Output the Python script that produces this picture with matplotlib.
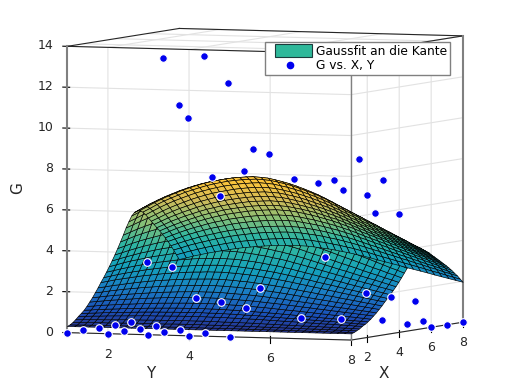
import numpy as np
import matplotlib
matplotlib.use("Agg")
import matplotlib.pyplot as plt
from matplotlib.colors import LinearSegmentedColormap
from matplotlib.legend_handler import HandlerPatch
from matplotlib.lines import Line2D
from matplotlib.patches import Patch, Rectangle
from mpl_toolkits.mplot3d import proj3d

# measured points, rows are X = 1..8, columns are Y = 1..8
# nan = hidden behind the surface in the picture
grid_vals = [1, 2, 3, 4, 5, 6, 7, 8]
nan = float("nan")
g_vals = [
    [0, 0, 0, 0, 0, nan, nan, nan],
    [0, 0, 0, 0, 1.3, nan, nan, 6.98],
    [0, 0, 0, 1.38, nan, nan, 7.05, 7.6],
    [0, 0, 1.4, nan, nan, 7.18, 8.45, 5.81],
    [0, 2.76, 7.21, 8.63, 7.21, 7.2, 5.64, 1.39],
    [2.83, 9.93, 11.69, 8.27, nan, nan, 1.41, 0],
    [12.7, 12.84, 7.26, nan, 3.15, 1.44, 0, 0],
    [10.28, 5.87, 1.42, 0, 0, 0, 0, 0],
]

# fitted surface, rows along X, columns along Y
fit_axis = [1, 1.175, 1.35, 1.525, 1.7, 1.875, 2.05, 2.225, 2.4, 2.575, 2.75, 2.925, 3.1, 3.275,
            3.45, 3.625, 3.8, 3.975, 4.15, 4.325, 4.5, 4.675, 4.85, 5.025, 5.2, 5.375, 5.55,
            5.725, 5.9, 6.075, 6.25, 6.425, 6.6, 6.775, 6.95, 7.125, 7.3, 7.475, 7.65, 7.825, 8]
fit_vals = [
    [.3, .3, .3, .3, .3, .3, .3, .3, .3, .3, .3, .3, .3, .3, .3, .3, .3, .3, .3, .3, .3, .3, .3, .3, .3, .3, .3, .3, .3, .3, .3, .3, .3, .3, .3, .3, .3, .3, .3, .3, .3],
    [.36, .36, .37, .37, .37, .37, .37, .38, .38, .38, .38, .38, .38, .38, .38, .38, .38, .38, .38, .38, .38, .38, .38, .38, .38, .37, .37, .37, .37, .37, .36, .36, .36, .36, .35, .35, .35, .35, .35, .34, .34],
    [.45, .46, .47, .47, .48, .48, .48, .49, .49, .5, .5, .5, .5, .5, .51, .51, .51, .51, .51, .5, .5, .5, .5, .49, .49, .48, .48, .47, .47, .46, .46, .45, .45, .44, .44, .43, .43, .42, .42, .41, .41],
    [.57, .58, .59, .6, .6, .61, .62, .63, .63, .64, .64, .65, .65, .65, .66, .66, .66, .66, .66, .65, .65, .64, .64, .63, .63, .62, .61, .6, .59, .58, .57, .56, .55, .55, .54, .53, .52, .51, .5, .49, .48],
    [.71, .72, .74, .75, .77, .78, .79, .8, .81, .82, .83, .83, .84, .84, .85, .85, .85, .85, .85, .84, .84, .83, .82, .81, .8, .79, .78, .76, .75, .73, .72, .71, .69, .68, .66, .65, .64, .62, .61, .59, .58],
    [.83, .85, .87, .89, .91, .92, .94, .95, .97, .98, .99, 1.0, 1.0, 1.01, 1.01, 1.02, 1.02, 1.02, 1.01, 1.01, 1.0, .99, .98, .96, .95, .94, .92, .9, .88, .86, .85, .83, .81, .79, .77, .76, .74, .72, .7, .68, .66],
    [.96, .99, 1.02, 1.04, 1.06, 1.08, 1.1, 1.12, 1.13, 1.15, 1.16, 1.17, 1.18, 1.19, 1.19, 1.19, 1.2, 1.19, 1.19, 1.18, 1.17, 1.16, 1.15, 1.13, 1.11, 1.09, 1.07, 1.05, 1.03, 1.01, .98, .96, .94, .91, .89, .87, .85, .82, .8, .78, .76],
    [1.13, 1.16, 1.2, 1.23, 1.25, 1.28, 1.3, 1.32, 1.34, 1.36, 1.38, 1.39, 1.4, 1.41, 1.42, 1.42, 1.42, 1.42, 1.42, 1.41, 1.39, 1.38, 1.36, 1.34, 1.32, 1.3, 1.27, 1.24, 1.21, 1.19, 1.16, 1.13, 1.1, 1.07, 1.04, 1.01, .98, .96, .93, .9, .87],
    [1.32, 1.36, 1.4, 1.44, 1.47, 1.5, 1.53, 1.56, 1.58, 1.6, 1.62, 1.64, 1.65, 1.66, 1.67, 1.68, 1.68, 1.68, 1.67, 1.66, 1.64, 1.62, 1.6, 1.58, 1.55, 1.52, 1.49, 1.46, 1.42, 1.39, 1.35, 1.32, 1.28, 1.25, 1.21, 1.18, 1.14, 1.11, 1.07, 1.04, 1.0],
    [1.51, 1.56, 1.61, 1.65, 1.69, 1.73, 1.76, 1.79, 1.82, 1.85, 1.87, 1.89, 1.91, 1.92, 1.93, 1.94, 1.94, 1.94, 1.93, 1.91, 1.89, 1.87, 1.85, 1.82, 1.79, 1.75, 1.72, 1.68, 1.63, 1.59, 1.55, 1.51, 1.47, 1.43, 1.38, 1.34, 1.3, 1.26, 1.22, 1.18, 1.13],
    [1.73, 1.78, 1.84, 1.89, 1.94, 1.98, 2.02, 2.06, 2.09, 2.12, 2.15, 2.17, 2.19, 2.21, 2.22, 2.23, 2.23, 2.23, 2.22, 2.2, 2.18, 2.15, 2.12, 2.09, 2.05, 2.01, 1.97, 1.92, 1.87, 1.82, 1.77, 1.72, 1.67, 1.62, 1.57, 1.53, 1.48, 1.43, 1.38, 1.33, 1.28],
    [1.95, 2.01, 2.08, 2.13, 2.19, 2.24, 2.29, 2.33, 2.37, 2.4, 2.43, 2.46, 2.48, 2.5, 2.51, 2.52, 2.53, 2.52, 2.51, 2.49, 2.46, 2.44, 2.4, 2.36, 2.32, 2.27, 2.22, 2.17, 2.11, 2.05, 2.0, 1.94, 1.88, 1.83, 1.77, 1.71, 1.66, 1.6, 1.54, 1.49, 1.43],
    [2.19, 2.26, 2.34, 2.4, 2.46, 2.52, 2.58, 2.62, 2.67, 2.71, 2.74, 2.77, 2.8, 2.82, 2.83, 2.85, 2.85, 2.85, 2.83, 2.81, 2.78, 2.75, 2.71, 2.66, 2.61, 2.56, 2.5, 2.44, 2.37, 2.31, 2.24, 2.18, 2.11, 2.05, 1.98, 1.92, 1.85, 1.79, 1.72, 1.66, 1.6],
    [2.41, 2.49, 2.58, 2.65, 2.72, 2.78, 2.85, 2.9, 2.95, 2.99, 3.03, 3.07, 3.09, 3.12, 3.14, 3.15, 3.16, 3.15, 3.14, 3.11, 3.07, 3.04, 2.99, 2.94, 2.89, 2.83, 2.76, 2.69, 2.62, 2.55, 2.47, 2.4, 2.33, 2.26, 2.18, 2.11, 2.04, 1.97, 1.89, 1.82, 1.75],
    [2.65, 2.74, 2.83, 2.91, 2.99, 3.06, 3.13, 3.19, 3.24, 3.29, 3.34, 3.37, 3.41, 3.43, 3.45, 3.46, 3.47, 3.46, 3.45, 3.42, 3.38, 3.34, 3.29, 3.23, 3.18, 3.11, 3.04, 2.96, 2.88, 2.8, 2.72, 2.64, 2.55, 2.48, 2.39, 2.31, 2.23, 2.15, 2.07, 1.99, 1.91],
    [2.9, 3.0, 3.11, 3.2, 3.28, 3.36, 3.44, 3.5, 3.56, 3.62, 3.67, 3.71, 3.74, 3.77, 3.79, 3.81, 3.82, 3.81, 3.79, 3.76, 3.72, 3.67, 3.62, 3.55, 3.49, 3.42, 3.33, 3.25, 3.16, 3.07, 2.98, 2.89, 2.8, 2.71, 2.62, 2.53, 2.44, 2.36, 2.26, 2.18, 2.09],
    [3.16, 3.27, 3.38, 3.48, 3.58, 3.66, 3.74, 3.82, 3.88, 3.95, 4.0, 4.04, 4.08, 4.11, 4.14, 4.15, 4.16, 4.15, 4.14, 4.1, 4.05, 4.0, 3.94, 3.87, 3.8, 3.72, 3.63, 3.54, 3.44, 3.34, 3.24, 3.14, 3.04, 2.95, 2.85, 2.75, 2.65, 2.56, 2.46, 2.36, 2.26],
    [3.43, 3.55, 3.67, 3.78, 3.89, 3.98, 4.07, 4.15, 4.22, 4.29, 4.35, 4.39, 4.44, 4.47, 4.5, 4.52, 4.53, 4.52, 4.5, 4.46, 4.41, 4.35, 4.28, 4.21, 4.13, 4.05, 3.95, 3.84, 3.73, 3.63, 3.52, 3.41, 3.3, 3.2, 3.09, 2.98, 2.87, 2.77, 2.66, 2.56, 2.45],
    [3.72, 3.85, 3.99, 4.11, 4.22, 4.32, 4.42, 4.51, 4.59, 4.66, 4.72, 4.78, 4.82, 4.86, 4.89, 4.91, 4.92, 4.91, 4.89, 4.84, 4.79, 4.73, 4.66, 4.57, 4.49, 4.39, 4.29, 4.17, 4.05, 3.94, 3.82, 3.7, 3.58, 3.47, 3.35, 3.23, 3.11, 3.0, 2.88, 2.77, 2.65],
    [4.02, 4.17, 4.32, 4.45, 4.57, 4.68, 4.79, 4.88, 4.97, 5.05, 5.12, 5.18, 5.23, 5.27, 5.3, 5.32, 5.34, 5.32, 5.3, 5.25, 5.19, 5.13, 5.05, 4.96, 4.86, 4.76, 4.64, 4.52, 4.39, 4.26, 4.13, 4.01, 3.88, 3.75, 3.62, 3.5, 3.37, 3.24, 3.11, 2.99, 2.86],
    [4.33, 4.49, 4.65, 4.79, 4.92, 5.04, 5.16, 5.26, 5.36, 5.44, 5.51, 5.58, 5.63, 5.68, 5.71, 5.74, 5.75, 5.74, 5.71, 5.66, 5.59, 5.52, 5.44, 5.34, 5.24, 5.13, 5.0, 4.87, 4.72, 4.59, 4.45, 4.31, 4.17, 4.04, 3.89, 3.76, 3.62, 3.48, 3.34, 3.21, 3.07],
    [4.66, 4.83, 5.0, 5.16, 5.3, 5.43, 5.56, 5.67, 5.77, 5.87, 5.94, 6.01, 6.07, 6.12, 6.16, 6.18, 6.2, 6.18, 6.16, 6.1, 6.03, 5.95, 5.86, 5.75, 5.64, 5.52, 5.39, 5.24, 5.09, 4.94, 4.79, 4.64, 4.49, 4.34, 4.19, 4.04, 3.89, 3.75, 3.59, 3.45, 3.29],
    [4.94, 5.12, 5.31, 5.47, 5.62, 5.76, 5.9, 6.01, 6.12, 6.22, 6.31, 6.38, 6.44, 6.5, 6.53, 6.56, 6.58, 6.56, 6.53, 6.47, 6.4, 6.32, 6.22, 6.11, 5.99, 5.86, 5.71, 5.56, 5.4, 5.24, 5.08, 4.92, 4.76, 4.6, 4.44, 4.29, 4.12, 3.97, 3.8, 3.65, 3.49],
    [5.2, 5.39, 5.58, 5.75, 5.92, 6.06, 6.2, 6.33, 6.44, 6.55, 6.64, 6.71, 6.78, 6.84, 6.88, 6.9, 6.92, 6.9, 6.88, 6.81, 6.73, 6.65, 6.54, 6.42, 6.3, 6.17, 6.01, 5.85, 5.68, 5.51, 5.34, 5.18, 5.0, 4.84, 4.67, 4.5, 4.33, 4.17, 4.0, 3.83, 3.66],
    [5.35, 5.55, 5.75, 5.92, 6.09, 6.24, 6.39, 6.52, 6.64, 6.74, 6.83, 6.91, 6.98, 7.04, 7.08, 7.11, 7.13, 7.11, 7.08, 7.01, 6.93, 6.84, 6.74, 6.62, 6.49, 6.35, 6.19, 6.02, 5.84, 5.68, 5.5, 5.33, 5.15, 4.98, 4.8, 4.64, 4.46, 4.29, 4.11, 3.94, 3.77],
    [5.4, 5.6, 5.8, 5.98, 6.15, 6.3, 6.45, 6.58, 6.7, 6.81, 6.9, 6.98, 7.05, 7.11, 7.15, 7.18, 7.2, 7.18, 7.15, 7.08, 7.0, 6.91, 6.8, 6.68, 6.55, 6.41, 6.25, 6.08, 5.9, 5.73, 5.55, 5.38, 5.2, 5.03, 4.85, 4.68, 4.5, 4.33, 4.15, 3.98, 3.8],
    [5.4, 5.6, 5.8, 5.98, 6.15, 6.3, 6.45, 6.58, 6.7, 6.81, 6.9, 6.98, 7.05, 7.11, 7.15, 7.18, 7.2, 7.18, 7.15, 7.08, 7.0, 6.91, 6.8, 6.68, 6.55, 6.41, 6.25, 6.08, 5.9, 5.73, 5.55, 5.38, 5.2, 5.03, 4.85, 4.68, 4.5, 4.33, 4.15, 3.98, 3.8],
    [5.3, 5.49, 5.69, 5.87, 6.03, 6.18, 6.33, 6.45, 6.57, 6.68, 6.77, 6.85, 6.92, 6.97, 7.01, 7.04, 7.06, 7.04, 7.01, 6.94, 6.87, 6.78, 6.67, 6.55, 6.43, 6.29, 6.13, 5.96, 5.79, 5.62, 5.45, 5.28, 5.1, 4.94, 4.76, 4.59, 4.42, 4.25, 4.07, 3.91, 3.73],
    [5.15, 5.34, 5.53, 5.7, 5.86, 6.0, 6.14, 6.27, 6.38, 6.48, 6.57, 6.65, 6.71, 6.77, 6.81, 6.84, 6.86, 6.84, 6.81, 6.74, 6.67, 6.58, 6.48, 6.36, 6.24, 6.1, 5.95, 5.79, 5.62, 5.46, 5.29, 5.13, 4.96, 4.79, 4.62, 4.46, 4.29, 4.13, 3.96, 3.8, 3.63],
    [4.97, 5.15, 5.33, 5.5, 5.65, 5.79, 5.93, 6.05, 6.16, 6.26, 6.34, 6.41, 6.48, 6.53, 6.57, 6.6, 6.61, 6.6, 6.57, 6.5, 6.43, 6.35, 6.25, 6.14, 6.02, 5.89, 5.74, 5.59, 5.42, 5.27, 5.1, 4.95, 4.78, 4.63, 4.46, 4.31, 4.14, 3.99, 3.82, 3.67, 3.5],
    [4.79, 4.96, 5.14, 5.3, 5.45, 5.58, 5.71, 5.83, 5.93, 6.03, 6.11, 6.18, 6.24, 6.29, 6.33, 6.35, 6.37, 6.35, 6.33, 6.27, 6.2, 6.12, 6.02, 5.91, 5.8, 5.68, 5.54, 5.39, 5.23, 5.08, 4.92, 4.77, 4.61, 4.46, 4.3, 4.15, 4.0, 3.85, 3.69, 3.54, 3.38],
    [4.61, 4.78, 4.95, 5.1, 5.24, 5.37, 5.5, 5.61, 5.71, 5.8, 5.88, 5.94, 6.0, 6.05, 6.09, 6.11, 6.13, 6.11, 6.09, 6.03, 5.96, 5.89, 5.79, 5.69, 5.58, 5.46, 5.33, 5.18, 5.03, 4.89, 4.74, 4.59, 4.44, 4.3, 4.14, 4.0, 3.85, 3.71, 3.55, 3.41, 3.26],
    [4.43, 4.59, 4.76, 4.9, 5.04, 5.16, 5.28, 5.39, 5.48, 5.57, 5.65, 5.71, 5.77, 5.82, 5.85, 5.87, 5.89, 5.87, 5.85, 5.79, 5.73, 5.65, 5.57, 5.47, 5.36, 5.25, 5.12, 4.98, 4.84, 4.7, 4.55, 4.41, 4.27, 4.13, 3.99, 3.85, 3.7, 3.56, 3.42, 3.28, 3.14],
    [4.25, 4.41, 4.56, 4.7, 4.83, 4.95, 5.07, 5.17, 5.26, 5.35, 5.42, 5.48, 5.53, 5.58, 5.61, 5.63, 5.65, 5.63, 5.61, 5.55, 5.49, 5.42, 5.34, 5.24, 5.13, 5.04, 4.91, 4.78, 4.64, 4.51, 4.37, 4.24, 4.1, 3.97, 3.83, 3.69, 3.56, 3.42, 3.28, 3.15, 3.01],
    [4.07, 4.22, 4.37, 4.5, 4.63, 4.74, 4.85, 4.95, 5.04, 5.12, 5.18, 5.24, 5.3, 5.34, 5.37, 5.39, 5.41, 5.39, 5.37, 5.32, 5.26, 5.19, 5.11, 5.02, 4.93, 4.82, 4.7, 4.58, 4.44, 4.32, 4.19, 4.06, 3.93, 3.8, 3.67, 3.54, 3.41, 3.28, 3.15, 3.02, 2.89],
    [3.87, 4.01, 4.15, 4.28, 4.4, 4.5, 4.61, 4.7, 4.78, 4.86, 4.92, 4.98, 5.03, 5.07, 5.1, 5.12, 5.13, 5.12, 5.1, 5.05, 4.99, 4.93, 4.85, 4.77, 4.68, 4.58, 4.47, 4.35, 4.22, 4.1, 3.98, 3.86, 3.73, 3.61, 3.49, 3.37, 3.24, 3.12, 3.0, 2.88, 2.75],
    [3.67, 3.8, 3.93, 4.05, 4.16, 4.26, 4.36, 4.44, 4.52, 4.6, 4.66, 4.71, 4.76, 4.79, 4.82, 4.84, 4.85, 4.84, 4.82, 4.77, 4.72, 4.66, 4.59, 4.51, 4.43, 4.33, 4.23, 4.11, 4.0, 3.88, 3.77, 3.65, 3.53, 3.42, 3.3, 3.19, 3.07, 2.96, 2.84, 2.73, 2.61],
    [3.44, 3.56, 3.68, 3.79, 3.9, 3.99, 4.08, 4.16, 4.24, 4.3, 4.36, 4.41, 4.45, 4.49, 4.51, 4.53, 4.54, 4.53, 4.51, 4.47, 4.42, 4.37, 4.3, 4.22, 4.14, 4.06, 3.96, 3.85, 3.74, 3.64, 3.53, 3.42, 3.31, 3.21, 3.1, 2.99, 2.88, 2.78, 2.67, 2.56, 2.45],
    [3.21, 3.32, 3.44, 3.54, 3.63, 3.72, 3.81, 3.88, 3.95, 4.01, 4.06, 4.11, 4.15, 4.18, 4.2, 4.22, 4.23, 4.22, 4.2, 4.16, 4.12, 4.07, 4.0, 3.94, 3.86, 3.78, 3.69, 3.59, 3.49, 3.4, 3.29, 3.2, 3.09, 3.0, 2.89, 2.8, 2.69, 2.6, 2.49, 2.4, 2.3],
    [2.95, 3.06, 3.16, 3.25, 3.34, 3.42, 3.5, 3.57, 3.63, 3.69, 3.73, 3.77, 3.81, 3.84, 3.86, 3.88, 3.89, 3.88, 3.86, 3.83, 3.78, 3.74, 3.68, 3.62, 3.55, 3.48, 3.39, 3.31, 3.21, 3.12, 3.03, 2.94, 2.85, 2.76, 2.67, 2.58, 2.48, 2.4, 2.3, 2.21, 2.12],
    [2.7, 2.79, 2.89, 2.97, 3.05, 3.12, 3.19, 3.25, 3.31, 3.36, 3.4, 3.44, 3.47, 3.5, 3.52, 3.53, 3.54, 3.53, 3.52, 3.49, 3.45, 3.41, 3.36, 3.3, 3.24, 3.17, 3.1, 3.02, 2.93, 2.85, 2.77, 2.69, 2.6, 2.52, 2.44, 2.36, 2.27, 2.19, 2.11, 2.03, 1.95],
]

xy_ticks = [2, 4, 6, 8]
z_ticks = [0, 2, 4, 6, 8, 10, 12, 14]
parula_cols = ["#2c2a80", "#1a50b8", "#1a7cc4", "#14a0bc", "#2eb5a2",
               "#87bf77", "#d1bb59", "#fcc43a"]
text_col = "#262626"

plt.rcParams["grid.color"] = "#e2e2e2"
plt.rcParams["grid.linewidth"] = 0.8

fig = plt.figure(figsize=(5.12, 3.84), dpi=100)
# 3d axes keep a square box, so it has to be bigger than the figure height
ax = fig.add_axes([8.5 / 512, -57 / 384, 500 / 512, 500 / 384], projection="3d", computed_zorder=False)
ax.set_proj_type("ortho")
ax.view_init(elev=-3.7, azim=-22)
ax.set_box_aspect((279, 286, 268), zoom=1.0)
ax.set_xlim(1, 8)
ax.set_ylim(1, 8)
ax.set_zlim(0, 14)
ax.patch.set_alpha(0)

for axis in (ax.xaxis, ax.yaxis, ax.zaxis):
    axis.set_pane_color((1, 1, 1, 1))
    axis.pane.set_edgecolor((1, 1, 1, 0))
    axis.line.set_color((0, 0, 0, 0))
ax.xaxis.set_ticks_position("lower")
ax.yaxis.set_ticks_position("lower")
ax.zaxis.set_ticks_position("lower")
ax.set_xticks(xy_ticks)
ax.set_yticks(xy_ticks)
ax.set_zticks(z_ticks)
ax.tick_params(labelbottom=False, labelleft=False, labelright=False, labeltop=False)
ax.set_xticklabels([])
ax.set_yticklabels([])
ax.set_zticklabels([])


# tick labels by hand, mplot3d puts them too far off here
def tick_text(x, y, z, label, ha):
    px, py, _ = proj3d.proj_transform(x, y, z, ax.get_proj())
    ax.text2D(px, py, label, fontsize=9, color=text_col, ha=ha, va="center", transform=ax.transData)


for t in xy_ticks:
    tick_text(t, 8, -0.97, str(t), "center")
    tick_text(1, t, -1.0, str(t), "center")
for t in z_ticks:
    tick_text(1, 0.655, t, str(t), "right")

# box edges
dark = dict(color="#262626", lw=0.8, zorder=1)
grey = dict(color="#808080", zorder=1)
ax.plot([1, 1], [1, 8], [14, 14], **dark)
ax.plot([1, 8], [8, 8], [14, 14], **dark)
ax.plot([1, 8], [1, 1], [14, 14], **dark)
ax.plot([8, 8], [1, 8], [14, 14], **dark)
ax.plot([1, 1], [1, 8], [0, 0], **dark)
ax.plot([1, 8], [8, 8], [0, 0], **dark)
ax.plot([1, 1], [1, 1], [0, 14], lw=1.5, **grey)
ax.plot([8, 8], [8, 8], [0, 14], lw=1.5, **grey)
ax.plot([1, 1], [8, 8], [0, 14], lw=1.0, **grey)

parula = LinearSegmentedColormap.from_list("parula_ish", parula_cols)
fit_x, fit_y = np.meshgrid(fit_axis, fit_axis, indexing="ij")
ax.plot_surface(fit_x, fit_y, np.array(fit_vals), cmap=parula, vmin=0, vmax=6.9,
                rstride=1, cstride=1, edgecolor="black", linewidth=0.45,
                shade=False, zorder=2)

pts_x, pts_y = np.meshgrid(grid_vals, grid_vals, indexing="ij")
pts_g = np.array(g_vals)
seen = np.isfinite(pts_g)
ax.scatter(pts_x[seen], pts_y[seen], pts_g[seen], s=30, c="#0000ee", edgecolors="white",
           linewidths=0.8, depthshade=False, zorder=3)

fig.text(384 / 512, 1 - 373 / 384, "X", fontsize=11, color=text_col, ha="center", va="center")
fig.text(151 / 512, 1 - 373 / 384, "Y", fontsize=11, color=text_col, ha="center", va="center")
fig.text(18 / 512, 1 - 188 / 384, "G", fontsize=11, color=text_col, ha="center", va="center", rotation=90)


# legend patch sits inset from the frame, taller than the default one
def make_swatch(legend, orig_handle, xdescent, ydescent, width, height, fontsize):
    return Rectangle((5, -1.5), width - 5, height + 3)


handles = [Patch(facecolor="#2fb89a", edgecolor="#1c3c3c", lw=0.8),
           Line2D([], [], ls="none", marker="o", ms=4.5, color="#0000ee")]
leg = fig.legend(handles, ["Gaussfit an die Kante", "G vs. X, Y"], fontsize=8.8,
                 loc="upper left", bbox_to_anchor=(265 / 512, 1 - 42 / 384),
                 borderaxespad=0, fancybox=False, framealpha=1, edgecolor="#808080",
                 borderpad=0.25, labelspacing=0.1, handlelength=3.6, handletextpad=0.3,
                 handler_map={Patch: HandlerPatch(patch_func=make_swatch)})
leg.get_frame().set_linewidth(1.0)

fig.savefig("out.png", dpi=100)
